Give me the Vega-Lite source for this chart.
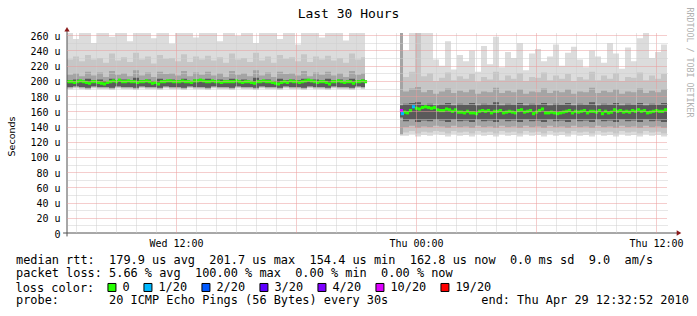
{
"$schema":"https://vega.github.io/schema/vega-lite/v6.json",
"width":600,"height":200,
"autosize":{"type":"none"},
"padding":{"left":67,"top":33,"right":30,"bottom":83},
"background":"#ffffff",
"config":{"view":{"stroke":null}},
"title":{"text":"Last 30 Hours","frame":"group","anchor":"middle","dx":-18.5,"offset":-23.5,"baseline":"alphabetic","font":"DejaVu Sans Mono","fontSize":13,"fontWeight":"normal","color":"#000000"},
"datasets":{
"smoke":[
{"i":0,"s":1,"lo":189,"a1":190,"b1":191,"d1":192,"d2":201,"b2":208,"a2":228,"hi":263},
{"i":2,"s":1,"lo":190,"a1":191,"b1":192,"d1":193,"d2":202,"b2":210,"a2":232,"hi":255},
{"i":4,"s":1,"lo":189,"a1":190,"b1":191,"d1":192,"d2":200,"b2":206,"a2":226,"hi":263},
{"i":6,"s":1,"lo":188,"a1":189,"b1":190,"d1":191,"d2":203,"b2":212,"a2":234,"hi":263},
{"i":8,"s":1,"lo":190,"a1":191,"b1":192,"d1":193,"d2":201,"b2":207,"a2":228,"hi":250},
{"i":10,"s":1,"lo":189,"a1":190,"b1":191,"d1":192,"d2":202,"b2":211,"a2":230,"hi":263},
{"i":12,"s":1,"lo":189,"a1":190,"b1":191,"d1":192,"d2":200,"b2":205,"a2":224,"hi":263},
{"i":14,"s":1,"lo":188,"a1":189,"b1":190,"d1":191,"d2":203,"b2":213,"a2":236,"hi":258},
{"i":16,"s":1,"lo":190,"a1":191,"b1":192,"d1":193,"d2":201,"b2":208,"a2":227,"hi":263},
{"i":18,"s":1,"lo":189,"a1":190,"b1":191,"d1":192,"d2":202,"b2":210,"a2":231,"hi":263},
{"i":20,"s":1,"lo":189,"a1":190,"b1":191,"d1":192,"d2":200,"b2":206,"a2":225,"hi":252},
{"i":22,"s":1,"lo":188,"a1":189,"b1":190,"d1":191,"d2":204,"b2":214,"a2":237,"hi":263},
{"i":24,"s":1,"lo":190,"a1":191,"b1":192,"d1":193,"d2":201,"b2":207,"a2":228,"hi":263},
{"i":26,"s":1,"lo":189,"a1":190,"b1":191,"d1":192,"d2":202,"b2":211,"a2":232,"hi":263},
{"i":28,"s":1,"lo":189,"a1":190,"b1":191,"d1":192,"d2":200,"b2":205,"a2":223,"hi":256},
{"i":30,"s":1,"lo":188,"a1":189,"b1":190,"d1":191,"d2":203,"b2":212,"a2":234,"hi":263},
{"i":32,"s":1,"lo":190,"a1":191,"b1":192,"d1":193,"d2":201,"b2":209,"a2":229,"hi":263},
{"i":34,"s":1,"lo":189,"a1":190,"b1":191,"d1":192,"d2":202,"b2":210,"a2":230,"hi":249},
{"i":36,"s":1,"lo":189,"a1":190,"b1":191,"d1":192,"d2":201,"b2":207,"a2":226,"hi":263},
{"i":38,"s":1,"lo":188,"a1":189,"b1":190,"d1":191,"d2":203,"b2":213,"a2":235,"hi":263},
{"i":40,"s":1,"lo":190,"a1":191,"b1":192,"d1":193,"d2":200,"b2":206,"a2":225,"hi":263},
{"i":42,"s":1,"lo":189,"a1":190,"b1":191,"d1":192,"d2":202,"b2":211,"a2":232,"hi":257},
{"i":44,"s":1,"lo":189,"a1":190,"b1":191,"d1":192,"d2":201,"b2":208,"a2":228,"hi":263},
{"i":46,"s":1,"lo":188,"a1":189,"b1":190,"d1":191,"d2":203,"b2":212,"a2":233,"hi":263},
{"i":48,"s":1,"lo":190,"a1":191,"b1":192,"d1":193,"d2":201,"b2":207,"a2":227,"hi":263},
{"i":50,"s":1,"lo":189,"a1":190,"b1":191,"d1":192,"d2":202,"b2":210,"a2":231,"hi":252},
{"i":52,"s":1,"lo":189,"a1":190,"b1":191,"d1":192,"d2":200,"b2":205,"a2":224,"hi":263},
{"i":54,"s":1,"lo":188,"a1":189,"b1":190,"d1":191,"d2":203,"b2":213,"a2":236,"hi":263},
{"i":56,"s":1,"lo":190,"a1":191,"b1":192,"d1":193,"d2":201,"b2":208,"a2":228,"hi":259},
{"i":58,"s":1,"lo":189,"a1":190,"b1":191,"d1":192,"d2":202,"b2":210,"a2":230,"hi":263},
{"i":60,"s":1,"lo":189,"a1":190,"b1":191,"d1":192,"d2":200,"b2":206,"a2":225,"hi":263},
{"i":62,"s":1,"lo":188,"a1":189,"b1":190,"d1":191,"d2":204,"b2":214,"a2":237,"hi":250},
{"i":64,"s":1,"lo":190,"a1":191,"b1":192,"d1":193,"d2":201,"b2":207,"a2":227,"hi":263},
{"i":66,"s":1,"lo":189,"a1":190,"b1":191,"d1":192,"d2":202,"b2":211,"a2":232,"hi":263},
{"i":68,"s":1,"lo":189,"a1":190,"b1":191,"d1":192,"d2":200,"b2":205,"a2":224,"hi":263},
{"i":70,"s":1,"lo":188,"a1":189,"b1":190,"d1":191,"d2":203,"b2":212,"a2":234,"hi":255},
{"i":72,"s":1,"lo":190,"a1":191,"b1":192,"d1":193,"d2":201,"b2":209,"a2":229,"hi":263},
{"i":74,"s":1,"lo":189,"a1":190,"b1":191,"d1":192,"d2":202,"b2":210,"a2":231,"hi":263},
{"i":76,"s":1,"lo":189,"a1":190,"b1":191,"d1":192,"d2":201,"b2":207,"a2":226,"hi":248},
{"i":78,"s":1,"lo":188,"a1":189,"b1":190,"d1":191,"d2":203,"b2":213,"a2":235,"hi":263},
{"i":80,"s":1,"lo":190,"a1":191,"b1":192,"d1":193,"d2":200,"b2":206,"a2":225,"hi":263},
{"i":82,"s":1,"lo":189,"a1":190,"b1":191,"d1":192,"d2":202,"b2":211,"a2":232,"hi":263},
{"i":84,"s":1,"lo":189,"a1":190,"b1":191,"d1":192,"d2":201,"b2":208,"a2":228,"hi":257},
{"i":86,"s":1,"lo":188,"a1":189,"b1":190,"d1":191,"d2":203,"b2":212,"a2":233,"hi":263},
{"i":88,"s":1,"lo":190,"a1":191,"b1":192,"d1":193,"d2":201,"b2":207,"a2":227,"hi":263},
{"i":90,"s":1,"lo":189,"a1":190,"b1":191,"d1":192,"d2":202,"b2":210,"a2":230,"hi":263},
{"i":92,"s":1,"lo":189,"a1":190,"b1":191,"d1":192,"d2":200,"b2":205,"a2":224,"hi":253},
{"i":94,"s":1,"lo":188,"a1":189,"b1":190,"d1":191,"d2":203,"b2":213,"a2":236,"hi":263},
{"i":96,"s":1,"lo":190,"a1":191,"b1":192,"d1":193,"d2":201,"b2":208,"a2":228,"hi":263},
{"i":98,"s":1,"lo":189,"a1":190,"b1":191,"d1":192,"d2":202,"b2":210,"a2":231,"hi":263},
{"i":99.33,"s":1,"lo":189,"a1":190,"b1":191,"d1":192,"d2":202,"b2":210,"a2":231,"hi":263},
{"i":111,"s":2,"lo":128,"a1":129,"b1":130,"d1":152,"d2":168,"b2":263,"a2":263,"hi":263},
{"i":112,"s":2,"lo":128,"a1":132,"b1":139,"d1":147,"d2":170,"b2":186,"a2":205,"hi":240},
{"i":114,"s":2,"lo":130,"a1":134,"b1":141,"d1":149,"d2":171,"b2":190,"a2":212,"hi":263},
{"i":116,"s":2,"lo":127,"a1":131,"b1":138,"d1":146,"d2":172,"b2":192,"a2":263,"hi":263},
{"i":118,"s":2,"lo":129,"a1":133,"b1":140,"d1":148,"d2":169,"b2":185,"a2":206,"hi":263},
{"i":120,"s":2,"lo":128,"a1":132,"b1":139,"d1":147,"d2":170,"b2":188,"a2":210,"hi":263},
{"i":122,"s":2,"lo":130,"a1":134,"b1":141,"d1":149,"d2":168,"b2":183,"a2":200,"hi":228},
{"i":124,"s":2,"lo":129,"a1":133,"b1":140,"d1":148,"d2":169,"b2":186,"a2":204,"hi":220},
{"i":126,"s":2,"lo":127,"a1":131,"b1":138,"d1":146,"d2":171,"b2":190,"a2":211,"hi":252},
{"i":128,"s":2,"lo":130,"a1":134,"b1":141,"d1":149,"d2":168,"b2":184,"a2":201,"hi":215},
{"i":130,"s":2,"lo":128,"a1":132,"b1":139,"d1":147,"d2":170,"b2":187,"a2":206,"hi":234},
{"i":132,"s":2,"lo":129,"a1":133,"b1":140,"d1":148,"d2":169,"b2":185,"a2":203,"hi":226},
{"i":134,"s":2,"lo":127,"a1":131,"b1":138,"d1":146,"d2":171,"b2":189,"a2":209,"hi":240},
{"i":136,"s":2,"lo":130,"a1":134,"b1":141,"d1":149,"d2":168,"b2":183,"a2":199,"hi":212},
{"i":138,"s":2,"lo":128,"a1":132,"b1":139,"d1":147,"d2":170,"b2":186,"a2":205,"hi":246},
{"i":140,"s":2,"lo":129,"a1":133,"b1":140,"d1":148,"d2":169,"b2":185,"a2":202,"hi":222},
{"i":142,"s":2,"lo":127,"a1":131,"b1":138,"d1":146,"d2":172,"b2":191,"a2":212,"hi":258},
{"i":144,"s":2,"lo":130,"a1":134,"b1":141,"d1":149,"d2":168,"b2":184,"a2":201,"hi":218},
{"i":146,"s":2,"lo":128,"a1":132,"b1":139,"d1":147,"d2":170,"b2":187,"a2":207,"hi":238},
{"i":148,"s":2,"lo":129,"a1":133,"b1":140,"d1":148,"d2":169,"b2":185,"a2":203,"hi":230},
{"i":150,"s":2,"lo":127,"a1":131,"b1":138,"d1":146,"d2":171,"b2":189,"a2":210,"hi":250},
{"i":152,"s":2,"lo":130,"a1":134,"b1":141,"d1":149,"d2":168,"b2":183,"a2":200,"hi":214},
{"i":154,"s":2,"lo":128,"a1":132,"b1":139,"d1":147,"d2":170,"b2":186,"a2":205,"hi":236},
{"i":156,"s":2,"lo":129,"a1":133,"b1":140,"d1":148,"d2":169,"b2":185,"a2":204,"hi":242},
{"i":158,"s":2,"lo":127,"a1":131,"b1":138,"d1":146,"d2":171,"b2":190,"a2":211,"hi":226},
{"i":160,"s":2,"lo":130,"a1":134,"b1":141,"d1":149,"d2":168,"b2":184,"a2":201,"hi":232},
{"i":162,"s":2,"lo":128,"a1":132,"b1":139,"d1":147,"d2":170,"b2":187,"a2":207,"hi":248},
{"i":164,"s":2,"lo":129,"a1":133,"b1":140,"d1":148,"d2":169,"b2":185,"a2":203,"hi":220},
{"i":166,"s":2,"lo":127,"a1":131,"b1":138,"d1":146,"d2":171,"b2":189,"a2":209,"hi":237},
{"i":168,"s":2,"lo":130,"a1":134,"b1":141,"d1":149,"d2":168,"b2":183,"a2":200,"hi":245},
{"i":170,"s":2,"lo":128,"a1":132,"b1":139,"d1":147,"d2":170,"b2":186,"a2":205,"hi":228},
{"i":172,"s":2,"lo":129,"a1":133,"b1":140,"d1":148,"d2":169,"b2":185,"a2":202,"hi":218},
{"i":174,"s":2,"lo":127,"a1":131,"b1":138,"d1":146,"d2":172,"b2":191,"a2":212,"hi":240},
{"i":176,"s":2,"lo":130,"a1":134,"b1":141,"d1":149,"d2":168,"b2":184,"a2":201,"hi":232},
{"i":178,"s":2,"lo":128,"a1":132,"b1":139,"d1":147,"d2":170,"b2":187,"a2":207,"hi":224},
{"i":180,"s":2,"lo":129,"a1":133,"b1":140,"d1":148,"d2":169,"b2":185,"a2":203,"hi":250},
{"i":182,"s":2,"lo":127,"a1":131,"b1":138,"d1":146,"d2":171,"b2":189,"a2":210,"hi":236},
{"i":184,"s":2,"lo":130,"a1":134,"b1":141,"d1":149,"d2":168,"b2":183,"a2":200,"hi":216},
{"i":186,"s":2,"lo":128,"a1":132,"b1":139,"d1":147,"d2":170,"b2":186,"a2":205,"hi":244},
{"i":188,"s":2,"lo":129,"a1":133,"b1":140,"d1":148,"d2":169,"b2":185,"a2":204,"hi":226},
{"i":190,"s":2,"lo":127,"a1":131,"b1":138,"d1":146,"d2":171,"b2":190,"a2":211,"hi":256},
{"i":192,"s":2,"lo":130,"a1":134,"b1":141,"d1":149,"d2":168,"b2":184,"a2":201,"hi":263},
{"i":194,"s":2,"lo":128,"a1":132,"b1":139,"d1":147,"d2":170,"b2":187,"a2":207,"hi":230},
{"i":196,"s":2,"lo":129,"a1":133,"b1":140,"d1":148,"d2":169,"b2":185,"a2":203,"hi":238},
{"i":198,"s":2,"lo":127,"a1":131,"b1":138,"d1":146,"d2":171,"b2":189,"a2":209,"hi":248},
{"i":200,"s":2,"lo":127,"a1":131,"b1":138,"d1":146,"d2":171,"b2":189,"a2":209,"hi":248}
],
"med":[
{"i":0,"m":199},{"i":1,"m":199},{"i":2,"m":198},{"i":3,"m":199},{"i":4,"m":200},{"i":5,"m":199},{"i":6,"m":198},{"i":7,"m":197},{"i":8,"m":199},{"i":9,"m":199},
{"i":10,"m":198},{"i":11,"m":197},{"i":12,"m":196},{"i":13,"m":198},{"i":14,"m":199},{"i":15,"m":200},{"i":16,"m":199},{"i":17,"m":201},{"i":18,"m":199},{"i":19,"m":199},
{"i":20,"m":200},{"i":21,"m":199},{"i":22,"m":199},{"i":23,"m":198},{"i":24,"m":199},{"i":25,"m":199},{"i":26,"m":200},{"i":27,"m":199},{"i":28,"m":197},{"i":29,"m":198},
{"i":30,"m":196},{"i":31,"m":199},{"i":32,"m":199},{"i":33,"m":200},{"i":34,"m":200},{"i":35,"m":199},{"i":36,"m":199},{"i":37,"m":199},{"i":38,"m":200},{"i":39,"m":199},
{"i":40,"m":199},{"i":41,"m":198},{"i":42,"m":200},{"i":43,"m":200},{"i":44,"m":201},{"i":45,"m":200},{"i":46,"m":199},{"i":47,"m":199},{"i":48,"m":200},{"i":49,"m":199},
{"i":50,"m":199},{"i":51,"m":198},{"i":52,"m":199},{"i":53,"m":199},{"i":54,"m":199},{"i":55,"m":199},{"i":56,"m":200},{"i":57,"m":199},{"i":58,"m":198},{"i":59,"m":199},
{"i":60,"m":199},{"i":61,"m":198},{"i":62,"m":197},{"i":63,"m":199},{"i":64,"m":199},{"i":65,"m":200},{"i":66,"m":199},{"i":67,"m":199},{"i":68,"m":198},{"i":69,"m":197},
{"i":70,"m":196},{"i":71,"m":198},{"i":72,"m":199},{"i":73,"m":198},{"i":74,"m":200},{"i":75,"m":199},{"i":76,"m":199},{"i":77,"m":198},{"i":78,"m":199},{"i":79,"m":200},
{"i":80,"m":201},{"i":81,"m":200},{"i":82,"m":199},{"i":83,"m":198},{"i":84,"m":199},{"i":85,"m":199},{"i":86,"m":198},{"i":87,"m":196},{"i":88,"m":199},{"i":89,"m":199},
{"i":90,"m":200},{"i":91,"m":199},{"i":92,"m":198},{"i":93,"m":199},{"i":94,"m":199},{"i":95,"m":197},{"i":96,"m":199},{"i":97,"m":199},{"i":98,"m":200},{"i":99,"m":199},
{"i":112,"m":159},{"i":113,"m":158},{"i":114,"m":161},{"i":116,"m":164},{"i":117,"m":163},{"i":118,"m":165},{"i":119,"m":166},{"i":120,"m":165},{"i":121,"m":164},
{"i":122,"m":165},{"i":123,"m":162},{"i":124,"m":161},{"i":125,"m":161},{"i":126,"m":163},{"i":127,"m":162},{"i":128,"m":160},{"i":129,"m":162},{"i":130,"m":159},{"i":131,"m":159},
{"i":132,"m":158},{"i":133,"m":160},{"i":134,"m":158},{"i":135,"m":158},{"i":136,"m":157},{"i":137,"m":160},{"i":138,"m":161},{"i":139,"m":160},{"i":140,"m":161},{"i":141,"m":158},
{"i":142,"m":160},{"i":143,"m":160},{"i":144,"m":161},{"i":145,"m":158},{"i":146,"m":159},{"i":147,"m":160},{"i":148,"m":159},{"i":149,"m":158},{"i":150,"m":161},{"i":151,"m":162},
{"i":152,"m":159},{"i":153,"m":160},{"i":154,"m":161},{"i":155,"m":157},{"i":156,"m":159},{"i":157,"m":161},{"i":158,"m":163},{"i":159,"m":158},{"i":160,"m":158},{"i":161,"m":159},
{"i":162,"m":158},{"i":163,"m":157},{"i":164,"m":158},{"i":165,"m":159},{"i":166,"m":160},{"i":167,"m":161},{"i":168,"m":158},{"i":169,"m":160},{"i":170,"m":159},{"i":171,"m":160},
{"i":172,"m":161},{"i":173,"m":158},{"i":174,"m":160},{"i":175,"m":160},{"i":176,"m":159},{"i":177,"m":161},{"i":178,"m":157},{"i":179,"m":160},{"i":180,"m":158},{"i":181,"m":159},
{"i":182,"m":162},{"i":183,"m":160},{"i":184,"m":161},{"i":185,"m":159},{"i":186,"m":160},{"i":187,"m":159},{"i":188,"m":161},{"i":189,"m":160},{"i":190,"m":162},{"i":191,"m":160},
{"i":192,"m":161},{"i":193,"m":158},{"i":194,"m":159},{"i":195,"m":160},{"i":196,"m":161},{"i":197,"m":160},{"i":198,"m":160},{"i":199,"m":162}
],
"loss":[
{"i":111,"m":161,"c":"10/20"},
{"i":111.3,"m":157,"c":"1/20"},
{"i":115,"m":166,"c":"1/20"}
],
"axes":[
{"x":0,"x2":0,"y":-4.5,"y2":266},
{"x":-1.3,"x2":203.5,"y":0,"y2":0}
]
},
"resolve":{"axis":{"x":"independent","y":"independent"}},
"layer":[
{"data":{"name":"smoke"},
 "mark":{"type":"area","interpolate":"step-after","color":"#dcdcdc","opacity":1,"clip":true},
 "encoding":{
  "x":{"field":"i","type":"quantitative","scale":{"domain":[0,200],"nice":false,"zero":false},
   "axis":{"orient":"bottom","values":[36.348,116.348,196.348],
    "labelExpr":"datum.value < 50 ? 'Wed 12:00' : datum.value < 150 ? 'Thu 00:00' : 'Thu 12:00'",
    "labelFont":"DejaVu Sans Mono","labelFontSize":10,"labelColor":"#000000","labelPadding":5,"labelFlush":false,"labelOverlap":false,"labelBound":false,
    "ticks":false,"domain":false,"grid":false,
    "title":["median\u00a0rtt:\u00a0\u00a0179.9\u00a0us\u00a0avg\u00a0\u00a0201.7\u00a0us\u00a0max\u00a0\u00a0154.4\u00a0us\u00a0min\u00a0\u00a0162.8\u00a0us\u00a0now\u00a0\u00a00.0\u00a0ms\u00a0sd\u00a0\u00a09.0\u00a0\u00a0am/s",
             "packet\u00a0loss:\u00a05.66\u00a0%\u00a0avg\u00a0\u00a0100.00\u00a0%\u00a0max\u00a0\u00a00.00\u00a0%\u00a0min\u00a0\u00a00.00\u00a0%\u00a0now"],
    "titleFont":"DejaVu Sans Mono","titleFontSize":11.9,"titleFontWeight":"normal","titleColor":"#000000",
    "titleAlign":"left","titleAnchor":"start","titleBaseline":"alphabetic","titleX":-51.5,"titleY":30.5,"titleLineHeight":13.33}},
  "y":{"field":"lo","type":"quantitative","scale":{"domain":[0,263],"nice":false},
   "axis":{"orient":"left","values":[0,20,40,60,80,100,120,140,160,180,200,220,240,260],
    "labelExpr":"datum.value == 0 ? '0' : datum.value + ' u'",
    "labelFont":"DejaVu Sans Mono","labelFontSize":10,"labelColor":"#000000","labelPadding":7,"labelOffset":1,"labelFlush":false,"labelOverlap":false,"labelBound":false,
    "ticks":false,"domain":false,"grid":false,
    "title":"Seconds","titleFont":"DejaVu Sans","titleFontSize":9.5,"titleFontWeight":"normal","titleColor":"#000000",
    "titleAngle":-90,"titleAlign":"center","titleBaseline":"middle","titleX":-56,"titleY":103}},
  "y2":{"field":"hi"},
  "detail":{"field":"s"}}},
{"data":{"name":"smoke"},
 "mark":{"type":"area","interpolate":"step-after","color":"#c6c6c6","opacity":1,"clip":true},
 "encoding":{
  "x":{"field":"i","type":"quantitative","scale":{"domain":[0,200],"nice":false,"zero":false},
   "axis":{"orient":"bottom","values":[36.348,76.348,116.348,156.348,196.348],"labels":false,"ticks":false,"domain":false,
    "grid":true,"gridColor":"#eb9a9a","gridDash":[1,1],"gridWidth":1,"gridOpacity":1,"zindex":1,
    "title":"probe:\u00a0\u00a0\u00a0\u00a0\u00a0\u00a0\u00a020\u00a0ICMP\u00a0Echo\u00a0Pings\u00a0(56\u00a0Bytes)\u00a0every\u00a030s\u00a0\u00a0\u00a0\u00a0\u00a0\u00a0\u00a0\u00a0\u00a0\u00a0\u00a0\u00a0\u00a0end:\u00a0Thu\u00a0Apr\u00a029\u00a012:32:52\u00a02010",
    "titleFont":"DejaVu Sans Mono","titleFontSize":11.9,"titleFontWeight":"normal","titleColor":"#000000",
    "titleAlign":"left","titleAnchor":"start","titleBaseline":"alphabetic","titleX":-51.5,"titleY":70.5}},
  "y":{"field":"a1","type":"quantitative","scale":{"domain":[0,263],"nice":false},
   "axis":{"orient":"left","values":[20,40,60,80,100,120,140,160,180,200,220,240,260],"labels":false,"ticks":false,"domain":false,"title":null,
    "grid":true,"gridColor":"#eb9a9a","gridDash":[1,1],"gridWidth":1,"gridOpacity":1,"zindex":1}},
  "y2":{"field":"a2"},
  "detail":{"field":"s"}}},
{"data":{"name":"smoke"},
 "mark":{"type":"area","interpolate":"step-after","color":"#a4a4a4","opacity":1,"clip":true},
 "encoding":{
  "x":{"field":"i","type":"quantitative","scale":{"domain":[0,200],"nice":false,"zero":false},
   "axis":{"orient":"bottom","values":[3.015,9.681,16.348,23.015,29.681,43.015,49.681,56.348,63.015,69.681,83.015,89.681,96.348,103.015,109.681,123.015,129.681,136.348,143.015,149.681,163.015,169.681,176.348,183.015,189.681],
    "labels":false,"ticks":false,"domain":false,"title":null,
    "grid":true,"gridColor":"#cfcfcf","gridDash":[1,1],"gridWidth":1,"gridOpacity":1,"zindex":1}},
  "y":{"field":"b1","type":"quantitative","scale":{"domain":[0,263],"nice":false},
   "axis":{"orient":"right","values":[10,30,50,70,90,110,130,150,170,190,210,230,250],"labels":false,"ticks":false,"domain":false,
    "grid":true,"gridColor":"#cfcfcf","gridDash":[1,1],"gridWidth":1,"gridOpacity":1,"zindex":1,
    "title":"RRDTOOL / TOBI OETIKER","titleFont":"DejaVu Sans Mono","titleFontSize":8.3,"titleFontWeight":"normal","titleColor":"#b0b0b0",
    "titleAngle":90,"titleAlign":"center","titleBaseline":"middle","titleX":21,"titleY":29}},
  "y2":{"field":"b2"},
  "detail":{"field":"s"}}},
{"data":{"name":"smoke"},
 "mark":{"type":"area","interpolate":"step-after","color":"#5a5a5a","opacity":1,"clip":true},
 "encoding":{
  "x":{"field":"i","type":"quantitative","scale":{"domain":[0,200],"nice":false,"zero":false},"axis":null},
  "y":{"field":"d1","type":"quantitative","scale":{"domain":[0,263],"nice":false},"axis":null},
  "y2":{"field":"d2"},
  "detail":{"field":"s"}}},
{"data":{"name":"med"},
 "mark":{"type":"point","shape":"square","filled":true,"size":10,"color":"#26ff00","opacity":1,"xOffset":1.5},
 "encoding":{
  "x":{"field":"i","type":"quantitative","scale":{"domain":[0,200],"nice":false,"zero":false},"axis":null},
  "y":{"field":"m","type":"quantitative","scale":{"domain":[0,263],"nice":false},"axis":null}}},
{"data":{"name":"loss"},
 "mark":{"type":"point","shape":"square","filled":true,"size":10,"opacity":1,"xOffset":1.5},
 "encoding":{
  "x":{"field":"i","type":"quantitative","scale":{"domain":[0,200],"nice":false,"zero":false},"axis":null},
  "y":{"field":"m","type":"quantitative","scale":{"domain":[0,263],"nice":false},"axis":null},
  "color":{"field":"c","type":"nominal",
   "scale":{"domain":["0","1/20","2/20","3/20","4/20","10/20","19/20"],"range":["#26ff00","#00b8ff","#0059ff","#5e00ff","#7e00ff","#dd00ff","#ff0000"]},
   "legend":{"title":"loss color:","orient":"none","legendX":-51.5,"legendY":248.5,"direction":"horizontal","columns":7,
    "titleOrient":"left","titleFont":"DejaVu Sans Mono","titleFontSize":11.9,"titleFontWeight":"normal","titleColor":"#000000","titlePadding":11.5,
    "symbolType":"square","symbolSize":64,"symbolOpacity":1,"symbolStrokeColor":"#000000","symbolStrokeWidth":1,
    "labelFont":"DejaVu Sans Mono","labelFontSize":11.9,"labelColor":"#000000","labelOffset":4.5,"labelLimit":0,"columnPadding":11,"padding":0,
    "encode":{"symbols":{"update":{"stroke":{"value":"#000000"},"strokeWidth":{"value":1},"opacity":{"value":1}}}}}}}},
{"data":{"name":"axes"},
 "mark":{"type":"rule","color":"#505050","strokeWidth":1},
 "encoding":{
  "x":{"field":"x","type":"quantitative","scale":{"domain":[0,200],"nice":false,"zero":false},"axis":null},
  "x2":{"field":"x2"},
  "y":{"field":"y","type":"quantitative","scale":{"domain":[0,263],"nice":false},"axis":null},
  "y2":{"field":"y2"}}},
{"data":{"values":[{"x":0,"y":268}]},
 "mark":{"type":"point","shape":"triangle-up","filled":true,"size":28,"color":"#8b1a1a","opacity":1},
 "encoding":{
  "x":{"field":"x","type":"quantitative","scale":{"domain":[0,200],"nice":false,"zero":false},"axis":null},
  "y":{"field":"y","type":"quantitative","scale":{"domain":[0,263],"nice":false},"axis":null}}},
{"data":{"values":[{"x":204,"y":0}]},
 "mark":{"type":"point","shape":"triangle-right","filled":true,"size":28,"color":"#8b1a1a","opacity":1},
 "encoding":{
  "x":{"field":"x","type":"quantitative","scale":{"domain":[0,200],"nice":false,"zero":false},"axis":null},
  "y":{"field":"y","type":"quantitative","scale":{"domain":[0,263],"nice":false},"axis":null}}}
]
}
